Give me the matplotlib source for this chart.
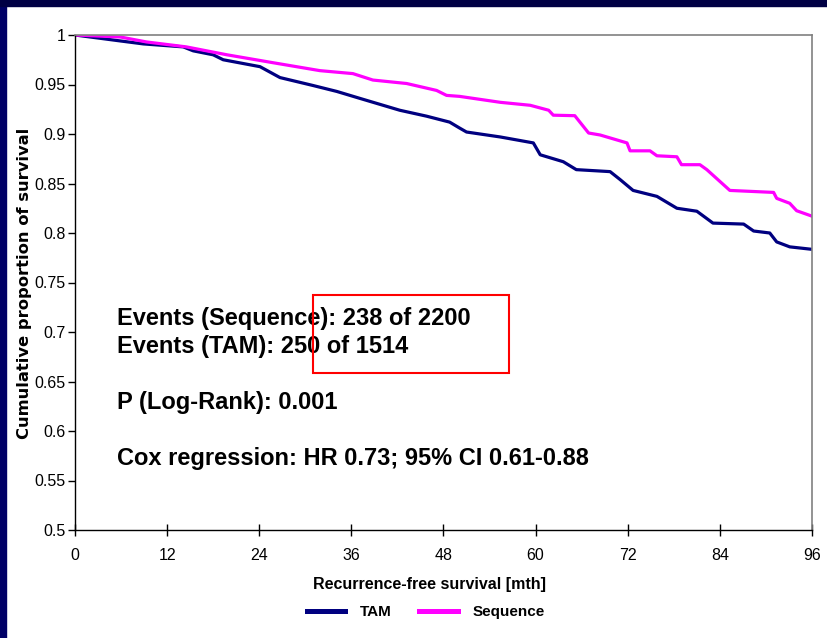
"""Recurrence-free survival, Sequence vs TAM (Kaplan-Meier style curves)."""

import matplotlib
matplotlib.use("Agg")
import matplotlib.pyplot as plt
from matplotlib.lines import Line2D
from matplotlib.patches import Rectangle

# %% data (months, survival proportion)
tam_t = [0, 5.9, 8.9, 14.1, 15.4, 18.0, 19.3, 24.1, 26.7, 31.0, 34.1, 37.1,
         42.3, 45.8, 48.8, 50.1, 51.0, 55.4, 59.7, 60.6, 63.6, 65.3, 69.7,
         71.0, 72.7, 75.8, 78.4, 81.0, 83.1, 87.1, 88.4, 90.5, 91.4, 93.1, 96]
tam_s = [1.0, 0.994, 0.991, 0.988, 0.984, 0.980, 0.975, 0.968, 0.957, 0.949,
         0.943, 0.936, 0.924, 0.918, 0.912, 0.906, 0.902, 0.897, 0.891, 0.879,
         0.872, 0.864, 0.862, 0.854, 0.843, 0.837, 0.825, 0.822, 0.810, 0.809,
         0.802, 0.800, 0.791, 0.786, 0.7835]

seq_t = [0, 5.9, 9.3, 14.5, 19.8, 25.8, 31.9, 36.2, 38.8, 43.2, 47.1, 48.4,
         50.1, 55.4, 59.3, 61.7, 62.3, 65.1, 66.9, 68.4, 71.9, 72.3, 74.9,
         75.8, 78.4, 79.0, 81.4, 82.3, 85.3, 91.0, 91.4, 93.1, 94.0, 96]
seq_s = [1.0, 0.998, 0.993, 0.988, 0.980, 0.972, 0.964, 0.961, 0.9545, 0.951,
         0.944, 0.939, 0.938, 0.932, 0.929, 0.924, 0.919, 0.9185, 0.901, 0.899,
         0.891, 0.883, 0.883, 0.878, 0.877, 0.869, 0.869, 0.864, 0.843, 0.841,
         0.835, 0.830, 0.8225, 0.817]

x_ticks = [0, 12, 24, 36, 48, 60, 72, 84, 96]
y_ticks = [0.5, 0.55, 0.6, 0.65, 0.7, 0.75, 0.8, 0.85, 0.9, 0.95, 1.0]
y_tick_labels = ["0.5", "0.55", "0.6", "0.65", "0.7", "0.75", "0.8",
                 "0.85", "0.9", "0.95", "1"]

notes = [
    "Events (Sequence): 238 of 2200",
    "Events (TAM): 250 of 1514",
    "P (Log-Rank): 0.001",
    "Cox regression: HR 0.73; 95% CI 0.61-0.88",
]

NAVY = "#000080"
MAGENTA = "#FF00FF"

plt.rcParams["font.family"] = ["Liberation Sans Narrow", "Liberation Sans",
                               "DejaVu Sans"]

W, H = 828, 638
fig = plt.figure(figsize=(W / 100, H / 100), dpi=100)
fig.patch.set_facecolor("white")

# slide border (left and top bands)
fig.patches.append(Rectangle((0, 0), 6 / W, 1, transform=fig.transFigure,
                             color="#000066", zorder=0))
fig.patches.append(Rectangle((0, 1 - 6 / H), 1, 6 / H, transform=fig.transFigure,
                             color="#000044", zorder=0))

ax = fig.add_axes([75 / W, 1 - 530 / H, (812 - 75) / W, (530 - 35) / H])

ax.plot(tam_t, tam_s, color=NAVY, lw=2.3, label="TAM")
ax.plot(seq_t, seq_s, color=MAGENTA, lw=2.3, label="Sequence")

ax.set_xlim(0, 96)
ax.set_ylim(0.5, 1.0)
ax.set_xticks(x_ticks)
ax.set_yticks(y_ticks)
ax.set_yticklabels(y_tick_labels)
ax.tick_params(axis="y", direction="out", length=5, width=1, labelsize=11.5,
               pad=2)
ax.tick_params(axis="x", direction="inout", length=8, width=1, labelsize=11.5,
               pad=9)
for side in ("top", "right"):
    ax.spines[side].set_color("#808080")
    ax.spines[side].set_linewidth(1.2)
for side in ("left", "bottom"):
    ax.spines[side].set_color("black")
    ax.spines[side].set_linewidth(1)

fig.text(25 / W, 1 - 283 / H, "Cumulative proportion of survival",
         rotation=90, ha="center", va="center", fontsize=11.8,
         fontweight="bold", family="DejaVu Sans")
fig.text(430 / W, 1 - 585 / H, "Recurrence-free survival [mth]",
         ha="center", va="center", fontsize=11.5, fontweight="bold")

handles = [Line2D([], [], color=NAVY, lw=3.6), Line2D([], [], color=MAGENTA, lw=3.6)]
leg = fig.legend(handles, ["TAM", "Sequence"], loc="center",
                 bbox_to_anchor=(426 / W, 1 - 612 / H), ncol=2, frameon=False,
                 handlelength=2.5, handletextpad=1.0, columnspacing=1.8,
                 prop={"weight": "bold", "size": 11})

note_y = [318, 347, 403, 459]
for txt, yy in zip(notes, note_y):
    fig.text(117 / W, 1 - yy / H, txt, ha="left", va="center", fontsize=17,
             fontweight="bold", family="Liberation Sans")

fig.patches.append(Rectangle((313 / W, 1 - 373 / H), (509 - 313) / W,
                             (373 - 295) / H, transform=fig.transFigure,
                             fill=False, edgecolor="#FF0000", lw=1.5, zorder=5))

fig.savefig("out.png", dpi=100)
